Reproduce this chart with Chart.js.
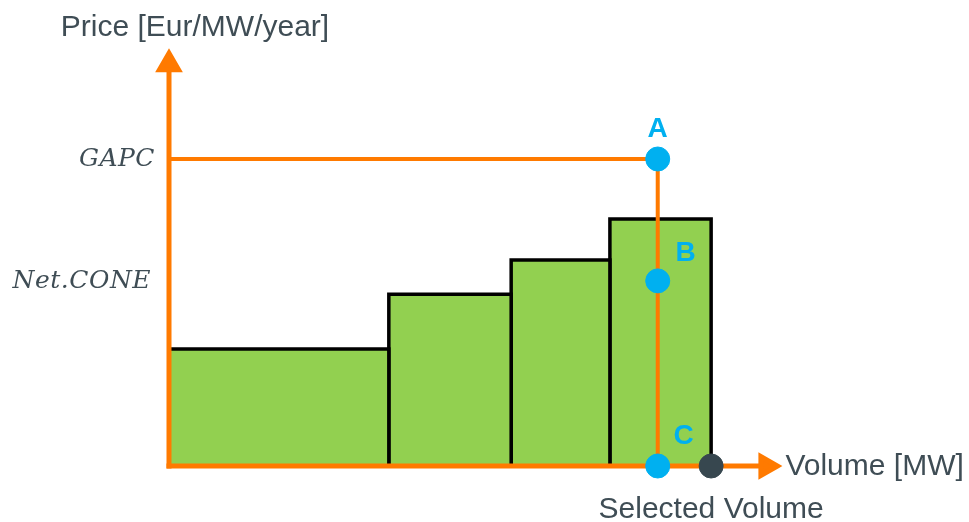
<!DOCTYPE html>
<html lang="en">
<head>
<meta charset="UTF-8">
<title>Capacity auction price</title>
<script src="https://cdn.jsdelivr.net/npm/chart.js"></script>
<style>
  html, body { margin: 0; padding: 0; background: #fff; }
  canvas { display: block; }
</style>
</head>
<body>
<canvas id="auctionChart" width="969" height="522"></canvas>
<script>
// Offer curve: volume edges of each block and the block price
const blockEdges = [0, 35.4, 55.1, 71.0, 87.3];
const blockPrices = [28.1, 41.3, 49.5, 59.4];
// Price levels named on the y axis
const priceLevels = [73.8, 44.5];
const priceLabels = ['GAPC', 'Net.CONE'];
// Selected volume and the points on it
const selectedVolume = 78.7;
const pointNames = ['A', 'B', 'C'];
const pointPrices = [73.8, 44.5, 0];
const totalVolume = 87.3;
// Axis arrows end here
const xAxisEnd = 96.2;
const yAxisEnd = 96.6;

const ORANGE = '#FF7A00';
const GREEN = '#92D050';
const BLUE = '#00B0F0';
const TEXT = '#3F4D55';

// one closed block per offer step
const blockSets = blockPrices.map((p, i) => ({
  data: [
    { x: blockEdges[i], y: 0 },
    { x: blockEdges[i], y: p },
    { x: blockEdges[i + 1], y: p },
    { x: blockEdges[i + 1], y: 0 }
  ],
  showLine: true,
  fill: 'origin',
  backgroundColor: GREEN,
  borderColor: '#000',
  borderWidth: 3.5,
  borderJoinStyle: 'miter',
  pointRadius: 0,
  order: 5
}));

const datasets = [
  // points A, B, C
  {
    data: pointPrices.map(p => ({ x: selectedVolume, y: p })),
    showLine: false,
    pointRadius: 12,
    pointBackgroundColor: BLUE,
    pointBorderColor: BLUE,
    order: 0
  },
  // total offered volume
  {
    data: [{ x: totalVolume, y: 0 }],
    showLine: false,
    pointRadius: 12,
    pointBackgroundColor: '#37474F',
    pointBorderColor: '#37474F',
    order: 0
  },
  // GAPC line down to the selected volume
  {
    data: [
      { x: 0, y: priceLevels[0] },
      { x: selectedVolume, y: priceLevels[0] },
      { x: selectedVolume, y: 0 }
    ],
    showLine: true,
    borderColor: ORANGE,
    borderWidth: 4,
    pointRadius: 0,
    order: 2
  },
  // y axis with arrow
  {
    data: [{ x: 0, y: 0 }, { x: 0, y: yAxisEnd }],
    showLine: true,
    borderColor: ORANGE,
    borderWidth: 5,
    borderCapStyle: 'square',
    pointRadius: [0, 11],
    pointStyle: 'triangle',
    pointRotation: 0,
    pointBackgroundColor: ORANGE,
    pointBorderColor: ORANGE,
    order: 1
  },
  // x axis with arrow
  {
    data: [{ x: 0, y: 0 }, { x: xAxisEnd, y: 0 }],
    showLine: true,
    borderColor: ORANGE,
    borderWidth: 5,
    borderCapStyle: 'square',
    pointRadius: [0, 11],
    pointStyle: 'triangle',
    pointRotation: 90,
    pointBackgroundColor: ORANGE,
    pointBorderColor: ORANGE,
    order: 1
  }
].concat(blockSets);

// texts placed from the scales
const labelPlugin = {
  id: 'labels',
  afterDatasetsDraw(chart) {
    const ctx = chart.ctx;
    const xs = chart.scales.x, ys = chart.scales.y;
    const x0 = xs.getPixelForValue(0);
    const y0 = ys.getPixelForValue(0);
    ctx.save();
    ctx.fillStyle = TEXT;
    ctx.textBaseline = 'middle';

    ctx.font = '30px "Liberation Sans", Arial, sans-serif';
    ctx.textAlign = 'center';
    ctx.fillText('Price [Eur/MW/year]', x0 + 26, 28);
    ctx.textAlign = 'left';
    ctx.fillText('Volume [MW]', xs.getPixelForValue(xAxisEnd) + 19, y0 + 1);
    ctx.textAlign = 'center';
    ctx.fillText('Selected Volume', xs.getPixelForValue(totalVolume), y0 + 44);

    ctx.font = 'italic 25px "DejaVu Serif", serif';
    ctx.letterSpacing = '0.5px';
    ctx.textAlign = 'right';
    priceLabels.forEach((t, i) => {
      ctx.fillText(t, x0 - 14 - i * 4, ys.getPixelForValue(priceLevels[i]) + 1);
    });
    ctx.letterSpacing = '0px';

    ctx.fillStyle = BLUE;
    ctx.font = 'bold 28px "Liberation Sans", Arial, sans-serif';
    ctx.textAlign = 'center';
    const sx = xs.getPixelForValue(selectedVolume);
    const offsets = [[0, -30], [28, -28], [26, -30]];
    pointNames.forEach((t, i) => {
      ctx.fillText(t, sx + offsets[i][0], ys.getPixelForValue(pointPrices[i]) + offsets[i][1]);
    });
    ctx.restore();
  }
};

new Chart(document.getElementById('auctionChart'), {
  type: 'scatter',
  data: { datasets: datasets },
  options: {
    responsive: false,
    animation: false,
    events: [],
    clip: false,
    layout: { padding: { left: 169, right: 179, top: 50, bottom: 56 } },
    scales: {
      x: { type: 'linear', min: 0, max: 100, display: false },
      y: { type: 'linear', min: 0, max: 100, display: false }
    },
    plugins: { legend: { display: false }, tooltip: { enabled: false } }
  },
  plugins: [labelPlugin]
});
</script>
</body>
</html>
